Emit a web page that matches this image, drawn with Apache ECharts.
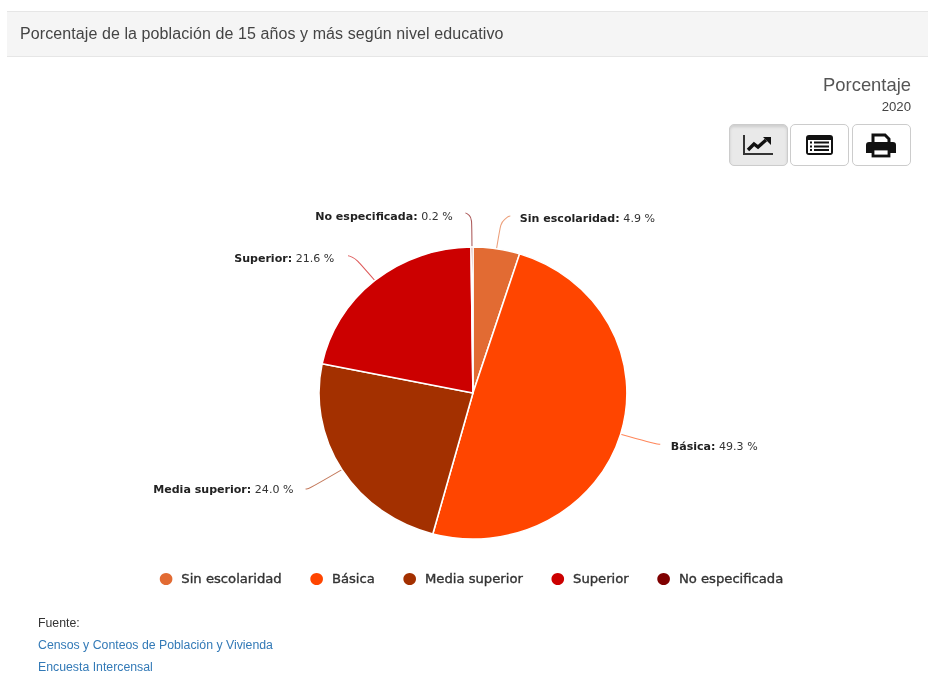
<!DOCTYPE html>
<html><head><meta charset="utf-8">
<script src="https://cdn.jsdelivr.net/npm/echarts@6/dist/echarts.min.js"></script>
<style>
html{background:#fff}
body{margin:0;padding:0;background:#fff;width:928px;height:686px;overflow:hidden;font-family:"Liberation Sans",Arial,sans-serif;filter:blur(.35px)}
#head{position:absolute;left:7px;top:11px;width:921px;height:44px;background:#f5f5f5;border-top:1px solid #e6e6e6;border-bottom:1px solid #e6e6e6;color:#444;font-size:16px;letter-spacing:.09px;line-height:44px;text-indent:13px}
#unit{position:absolute;right:17px;top:74px;font-size:18.4px;color:#555}
#year{position:absolute;right:17px;top:99px;font-size:13.2px;color:#444}
.btn{position:absolute;top:124px;width:57px;height:40px;border:1px solid #ccc;border-radius:5px;background:#fff}
.btn svg{position:absolute;left:12px;top:7px}
#chart{position:absolute;left:0;top:0;width:880px;height:686px;transform-origin:0 0;transform:scaleX(1.0545)}
#src{position:absolute;left:38px;top:612px;font-size:12.3px;line-height:22px;color:#333}
#src span{color:#337ab7;display:block}
</style></head><body>
<div id="chart"></div>
<div id="head">Porcentaje de la población de 15 años y más según nivel educativo</div>
<div id="unit">Porcentaje</div><div id="year">2020</div>
<div class="btn" style="left:729px;background:#e9e9e9;box-shadow:inset 0 2px 3px rgba(0,0,0,.12)"><svg width="32" height="26" viewBox="0 0 32 26"><path d="M2 3V22H31" fill="none" stroke="#333" stroke-width="2"/><path d="M6 18L12 12L16 15L24 8" fill="none" stroke="#111" stroke-width="3.4"/><path d="M21 5H29V13Z" fill="#111"/></svg></div>
<div class="btn" style="left:790px"><svg width="32" height="26" viewBox="0 0 32 26"><rect x="3" y="3" width="27" height="20" rx="3" fill="#111"/><rect x="5" y="8" width="23" height="13" fill="#fff"/><path d="M7 10.5H9M11 10.5H26M7 14.5H9M11 14.5H26M7 18H9M11 18H26" stroke="#111" stroke-width="2"/></svg></div>
<div class="btn" style="left:852px"><svg width="32" height="26" viewBox="0 0 32 26"><path d="M8 11V3H20L24 7V11" fill="#fff" stroke="#111" stroke-width="3"/><path d="M4 10H28Q31 10 31 13V21H25V16H7V21H1V13Q1 10 4 10Z" fill="#111"/><rect x="8" y="17" width="16" height="7" fill="#fff" stroke="#111" stroke-width="2.8"/></svg></div>
<div id="src">Fuente:<span>Censos y Conteos de Población y Vivienda</span><span>Encuesta Intercensal</span></div>
<script>
const categories = ["Sin escolaridad","Básica","Media superior","Superior","No especificada"];
const values = [4.9,49.3,24.0,21.6,0.2];
const colors = ["#E26B33","#FF4500","#A33000","#CC0000","#7F0000"];
const lineLen = [33,36,37,32,34];
const lineLen2 = [8,3,3,5,6];
const labelPad = [4,5,6.5,8,7];
const labelTop = [4,4,0,6,8];
const chart = echarts.init(document.getElementById('chart'),null,{renderer:'svg'});
const FONT = '"DejaVu Sans",sans-serif';
chart.setOption({
  animation:false,
  color:colors,
  legend:{left:144.5,top:566,itemWidth:14,itemHeight:14,itemGap:24.8,icon:'circle',
    textStyle:{fontFamily:FONT,fontSize:12.5,color:'#333',textBorderColor:'#333',textBorderWidth:.35,padding:[0,0,0,2.5]}},
  series:[{type:'pie',radius:146,center:[448.5,393],startAngle:90,clockwise:true,
    data:categories.map((n,i)=>({name:n,value:values[i],
      label:{padding:[labelTop[i],labelPad[i],0,labelPad[i]]},
      labelLine:{length:lineLen[i],length2:lineLen2[i]}})),
    itemStyle:{borderColor:'#fff',borderWidth:1.5},
    minAngle:0,avoidLabelOverlap:false,
    label:{formatter:p=>`{b|${p.name}:} {v|${p.value.toFixed(1)} %}`,
      rich:{b:{fontFamily:FONT,fontSize:10.5,fontWeight:'bold',color:'#222'},v:{fontFamily:FONT,fontSize:10.5,color:'#333'}}},
    labelLine:{show:true,smooth:0.8,lineStyle:{width:1,opacity:.65}}
  }]
});
</script></body></html>
